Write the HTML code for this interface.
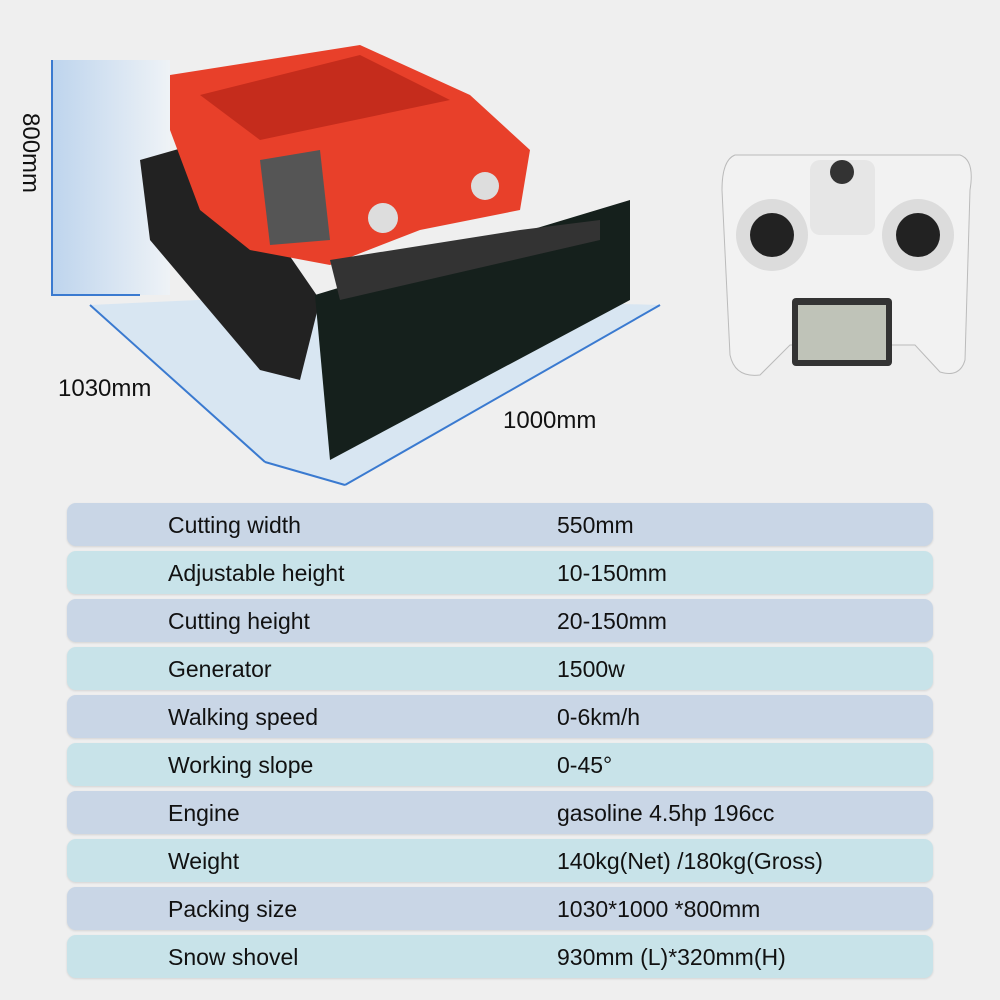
<!DOCTYPE html>
<html><head><meta charset="utf-8"><style>
body{margin:0;width:1000px;height:1000px;background:#efefef;font-family:"Liberation Sans",sans-serif;position:relative;overflow:hidden}
.r{position:absolute;left:67px;width:866px;height:43px;border-radius:9px;box-shadow:0 1px 2px rgba(0,0,0,.12);font-size:23px;color:#111}
.r span{position:absolute;top:9px}
.a{left:101px}.b{left:490px}
.o{background:#c9d6e6}.e{background:#c8e3e9}
.l{position:absolute;font-size:24px;color:#111}
</style></head><body>
<svg width="1000" height="500" style="position:absolute;left:0;top:0">
<defs><linearGradient id="g" x1="0" x2="1"><stop offset="0" stop-color="#a9c9ec"/><stop offset="1" stop-color="#eef4fa"/></linearGradient></defs>
<path d="M52 60 L170 60 L170 295 L52 295Z" fill="url(#g)" opacity=".7"/>
<path d="M52 60 V295 H140" stroke="#3a7ad0" stroke-width="2" fill="none"/>
<path d="M90 305 L305 295 L660 305 L345 485 L265 462 Z" fill="#cfe2f3" opacity=".7"/>
<path d="M90 305 L265 462 M345 485 L660 305 M265 462 L345 485" stroke="#3a7ad0" stroke-width="2" fill="none"/>
<path d="M140 160 L210 140 L320 300 L300 380 L260 370 L150 240Z" fill="#222"/>
<path d="M170 75 L360 45 L470 95 L530 150 L520 210 L420 230 L330 265 L250 250 L200 210 L170 130Z" fill="#e8402a"/>
<path d="M200 95 L360 55 L450 100 L260 140Z" fill="#c52c1c"/>
<circle cx="383" cy="218" r="15" fill="#ddd"/><circle cx="485" cy="186" r="14" fill="#ddd"/>
<path d="M260 160 L320 150 L330 240 L270 245Z" fill="#555"/>
<path d="M315 295 L630 200 L630 300 L330 460 Z" fill="#15201c"/>
<path d="M330 260 L520 230 L600 220 L600 240 L340 300Z" fill="#333"/>
<path d="M735 155 L960 155 Q975 160 970 190 L965 360 Q960 378 940 372 L915 345 L790 345 L760 375 Q735 378 730 355 L722 190 Q722 160 735 155Z" fill="#f2f2f2" stroke="#bbb"/>
<circle cx="772" cy="235" r="36" fill="#dcdcdc"/><circle cx="772" cy="235" r="22" fill="#222"/>
<circle cx="918" cy="235" r="36" fill="#dcdcdc"/><circle cx="918" cy="235" r="22" fill="#222"/>
<rect x="810" y="160" width="65" height="75" rx="10" fill="#e6e6e6"/>
<circle cx="842" cy="172" r="12" fill="#333"/>
<rect x="792" y="298" width="100" height="68" rx="4" fill="#333"/>
<rect x="798" y="305" width="88" height="55" fill="#bfc3b8"/>
</svg>
<div class="l" style="top:113px;transform:rotate(90deg);transform-origin:left top;left:44px">800mm</div>
<div class="l" style="left:58px;top:375px">1030mm</div>
<div class="l" style="left:503px;top:407px">1000mm</div>
<div class="r o" style="top:503px"><span class="a">Cutting width</span><span class="b">550mm</span></div>
<div class="r e" style="top:551px"><span class="a">Adjustable height</span><span class="b">10-150mm</span></div>
<div class="r o" style="top:599px"><span class="a">Cutting height</span><span class="b">20-150mm</span></div>
<div class="r e" style="top:647px"><span class="a">Generator</span><span class="b">1500w</span></div>
<div class="r o" style="top:695px"><span class="a">Walking speed</span><span class="b">0-6km/h</span></div>
<div class="r e" style="top:743px"><span class="a">Working slope</span><span class="b">0-45°</span></div>
<div class="r o" style="top:791px"><span class="a">Engine</span><span class="b">gasoline 4.5hp 196cc</span></div>
<div class="r e" style="top:839px"><span class="a">Weight</span><span class="b">140kg(Net) /180kg(Gross)</span></div>
<div class="r o" style="top:887px"><span class="a">Packing size</span><span class="b">1030*1000 *800mm</span></div>
<div class="r e" style="top:935px"><span class="a">Snow shovel</span><span class="b">930mm (L)*320mm(H)</span></div>
</body></html>
